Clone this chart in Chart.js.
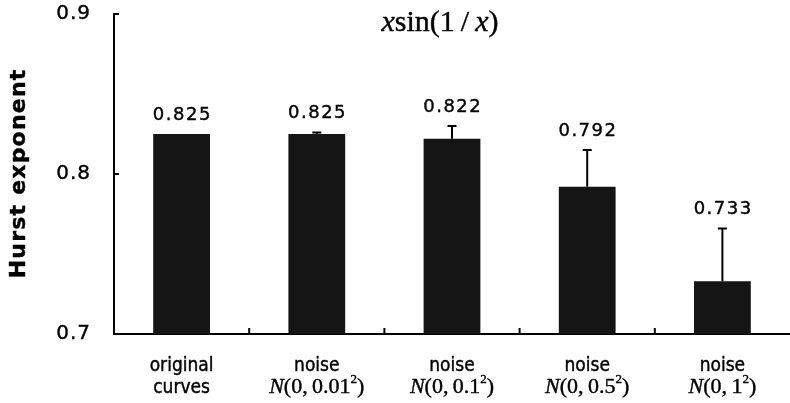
<!DOCTYPE html>
<html><head><meta charset="utf-8">
<script src="https://cdn.jsdelivr.net/npm/chart.js@4/dist/chart.umd.min.js"></script>
<style>html,body{margin:0;padding:0;background:#fff}canvas{display:block}</style>
</head><body>
<canvas id="c" width="790" height="403"></canvas>
<script>
// ---- data ----
const categories = ['original curves', 'noise N(0, 0.01²)', 'noise N(0, 0.1²)', 'noise N(0, 0.5²)', 'noise N(0, 1²)'];
const labelLine1 = ['original', 'noise', 'noise', 'noise', 'noise'];
const labelLine2 = ['curves', '0.01', '0.1', '0.5', '1'];   // sigma values for N(0, σ²)
const hurst = [0.825, 0.825, 0.822, 0.792, 0.733];
const hurstErr = [0, 0.001, 0.008, 0.023, 0.033];
const valueLabels = ['0.825', '0.825', '0.822', '0.792', '0.733'];
const yTicks = [0.7, 0.8, 0.9];
const yTickLabels = ['0.7', '0.8', '0.9'];
const yTitle = 'Hurst exponent';

const SANS = '"DejaVu Sans", Verdana, sans-serif';
const SANSC = '"DejaVu Sans Condensed", "DejaVu Sans", sans-serif';
const SERIF = '"Liberation Serif", "Times New Roman", serif';

function fillThick(ctx, text, x, y) {
  ctx.fillText(text, x, y);
  ctx.strokeText(text, x, y);
}

function spacedText(ctx, text, x, y, spacing, align) {
  ctx.letterSpacing = spacing + 'px';
  const w = ctx.measureText(text).width - spacing;
  let sx = x;
  if (align === 'center') sx = x - w / 2;
  else if (align === 'right') sx = x - w;
  ctx.textAlign = 'left';
  fillThick(ctx, text, sx, y);
  ctx.letterSpacing = '0px';
}

function drawRuns(ctx, runs, cx, baseline) {
  let total = 0;
  runs.forEach(r => { ctx.font = r.font; r.w = ctx.measureText(r.t).width; total += r.w; });
  let x = cx - total / 2;
  ctx.textAlign = 'left';
  runs.forEach(r => { ctx.font = r.font; fillThick(ctx, r.t, x, baseline + (r.dy || 0)); x += r.w; });
}

const custom = {
  id: 'custom',
  afterDatasetsDraw(chart) {
    const ctx = chart.ctx, xs = chart.scales.x, ys = chart.scales.y, a = chart.chartArea;
    const meta = chart.getDatasetMeta(0);
    ctx.save();
    ctx.strokeStyle = '#000';
    ctx.fillStyle = '#000';
    ctx.lineWidth = 2;
    // error bars (upper only)
    meta.data.forEach((bar, i) => {
      if (!hurstErr[i]) return;
      const top = ys.getPixelForValue(hurst[i] + hurstErr[i]);
      ctx.beginPath();
      ctx.moveTo(bar.x, bar.y);
      ctx.lineTo(bar.x, top);
      ctx.moveTo(bar.x - 4.5, top);
      ctx.lineTo(bar.x + 4.5, top);
      ctx.stroke();
    });
    // inward ticks on y axis
    yTicks.forEach((v, i) => {
      if (i === 0) return;
      const py = ys.getPixelForValue(v);
      ctx.beginPath(); ctx.moveTo(a.left, py); ctx.lineTo(a.left + 5, py); ctx.stroke();
    });
    // inward ticks on x axis between categories
    for (let i = 1; i < categories.length; i++) {
      const px = (xs.getPixelForValue(i - 1) + xs.getPixelForValue(i)) / 2;
      ctx.beginPath(); ctx.moveTo(px, a.bottom); ctx.lineTo(px, a.bottom - 6); ctx.stroke();
    }
    // text: slight stroke to mimic the heavier scanned print
    ctx.lineWidth = 0.4;
    // value labels
    ctx.textBaseline = 'alphabetic';
    ctx.font = '18px ' + SANS;
    meta.data.forEach((bar, i) => {
      const top = ys.getPixelForValue(hurst[i] + hurstErr[i]);
      spacedText(ctx, valueLabels[i], bar.x, top - 14, 1.5, 'center');
    });
    // y tick labels
    ctx.font = '20px ' + SANS;
    ctx.textBaseline = 'middle';
    yTicks.forEach((v, i) => {
      spacedText(ctx, yTickLabels[i], a.left - 24, ys.getPixelForValue(v), 1, 'right');
    });
    // y title
    ctx.save();
    ctx.translate(19, (a.top + a.bottom) / 2);
    ctx.rotate(-Math.PI / 2);
    ctx.font = 'bold 22px ' + SANS;
    spacedText(ctx, yTitle, 0, 0, 1.2, 'center');
    ctx.restore();
    // x category labels
    ctx.textBaseline = 'alphabetic';
    categories.forEach((c, i) => {
      const px = xs.getPixelForValue(i);
      ctx.font = '19px ' + SANSC;
      ctx.textAlign = 'center';
      fillThick(ctx, labelLine1[i], px, 371);
      if (i === 0) {
        fillThick(ctx, labelLine2[i], px, 393);
      } else {
        drawRuns(ctx, [
          { t: 'N', font: 'italic 22px ' + SERIF },
          { t: '(0,\u2009' + labelLine2[i], font: '22px ' + SERIF },
          { t: '2', font: '13px ' + SERIF, dy: -10 },
          { t: ')', font: '22px ' + SERIF }
        ], px, 393);
      }
    });
    // title  x sin(1/x)
    drawRuns(ctx, [
      { t: 'x', font: 'italic 30px ' + SERIF },
      { t: 'sin(1\u2009/\u2009', font: '30px ' + SERIF },
      { t: 'x', font: 'italic 30px ' + SERIF },
      { t: ')', font: '30px ' + SERIF }
    ], 440, 31);
    ctx.restore();
  }
};

new Chart(document.getElementById('c'), {
  type: 'bar',
  data: {
    labels: categories,
    datasets: [{
      data: hurst,
      backgroundColor: '#151515',
      borderWidth: 0,
      barPercentage: 0.42,
      categoryPercentage: 1
    }]
  },
  options: {
    responsive: false,
    animation: false,
    devicePixelRatio: 1,
    layout: { padding: { top: 14, right: 0, left: 0, bottom: 0 } },
    plugins: { legend: { display: false }, tooltip: { enabled: false }, title: { display: false } },
    scales: {
      x: {
        grid: { display: false, drawTicks: false },
        border: { display: true, color: '#000', width: 2 },
        ticks: { display: false },
        afterFit(s) { s.height = 69; }
      },
      y: {
        min: yTicks[0], max: yTicks[yTicks.length - 1],
        afterBuildTicks(s) { s.ticks = yTicks.map(v => ({ value: v })); },
        grid: { display: false, drawTicks: false },
        border: { display: true, color: '#000', width: 2 },
        ticks: { display: false },
        afterFit(s) { s.width = 114; }
      }
    }
  },
  plugins: [custom]
});
</script>
</body></html>
